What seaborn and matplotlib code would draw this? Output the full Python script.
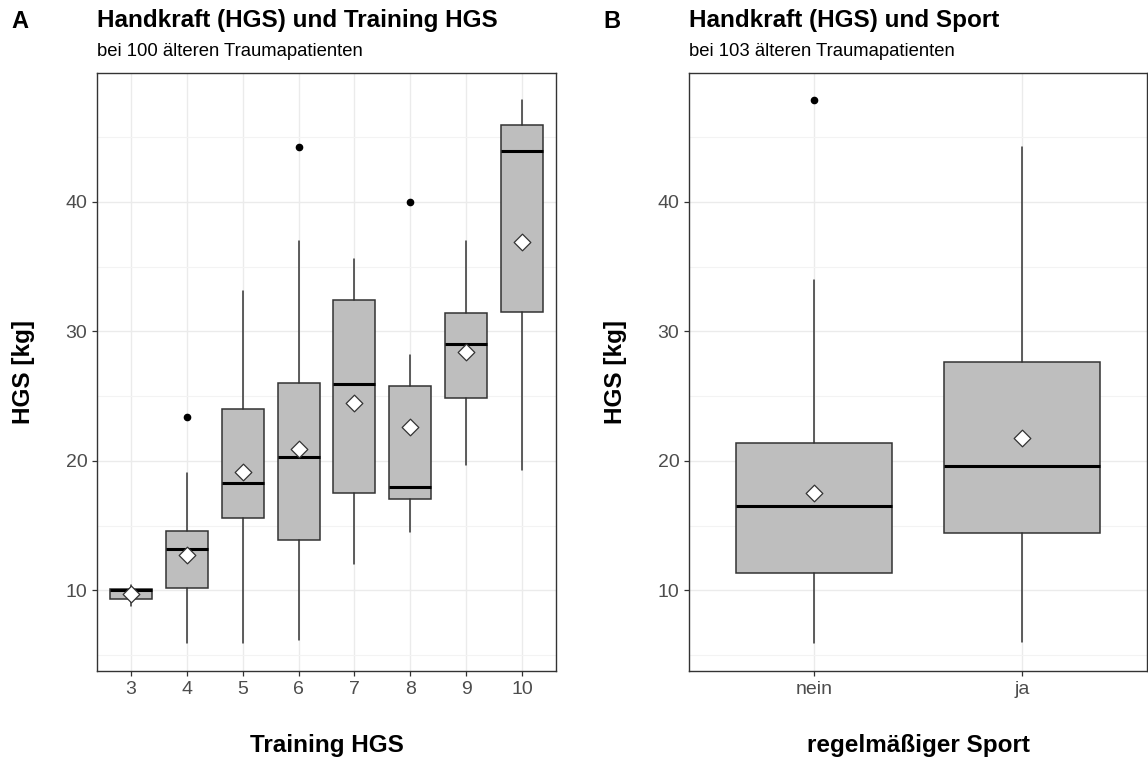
import matplotlib
matplotlib.use("Agg")
import matplotlib.pyplot as plt
import seaborn as sns
import pandas as pd
from matplotlib.ticker import MultipleLocator

# ---- data ----
training_levels = ["3", "4", "5", "6", "7", "8", "9", "10"]
a_whislo = [8.8, 5.9, 5.9, 6.2, 12.0, 14.5, 19.7, 19.3]
a_q1     = [9.3, 10.2, 15.6, 13.9, 17.5, 17.05, 24.85, 31.5]
a_med    = [10.0, 13.2, 18.3, 20.3, 25.9, 18.0, 29.0, 43.9]
a_q3     = [10.1, 14.6, 24.0, 26.0, 32.4, 25.75, 31.45, 45.9]
a_whishi = [10.4, 19.05, 33.1, 37.0, 35.6, 28.2, 37.0, 47.9]
a_mean   = [9.7, 12.75, 19.15, 20.9, 24.45, 22.6, 28.4, 36.9]
a_out    = [[], [23.4], [], [44.2], [], [40.0], [], []]

sport_levels = ["nein", "ja"]
b_whislo = [5.95, 6.0]
b_q1     = [11.3, 14.4]
b_med    = [16.55, 19.6]
b_q3     = [21.4, 27.6]
b_whishi = [34.0, 44.2]
b_mean   = [17.55, 21.8]
b_out    = [[47.85], []]

titles = ["Handkraft (HGS) und Training HGS", "Handkraft (HGS) und Sport"]
subtitles = ["bei 100 älteren Traumapatienten", "bei 103 älteren Traumapatienten"]
xlabels = ["Training HGS", "regelmäßiger Sport"]
tags = ["A", "B"]
ylabel = "HGS [kg]"

# ---- style ----
sns.set_theme(style="whitegrid")
plt.rcParams["font.family"] = ["Liberation Sans", "DejaVu Sans"]

W, H = 1148, 758
fig = plt.figure(figsize=(W / 100, H / 100), dpi=100)

def px_axes(left, right, top, bottom):
    return fig.add_axes([left / W, 1 - bottom / H, (right - left) / W, (bottom - top) / H])

axA = px_axes(97, 556, 73, 671)
axB = px_axes(689, 1147, 73, 671)

panels = [
    (axA, training_levels, a_whislo, a_q1, a_med, a_q3, a_whishi, a_mean, a_out),
    (axB, sport_levels, b_whislo, b_q1, b_med, b_q3, b_whishi, b_mean, b_out),
]

edge = "#333333"
for i, (ax, cats, lo, q1, med, q3, hi, mean, out) in enumerate(panels):
    stats = []
    for j, c in enumerate(cats):
        stats.append(dict(label=c, whislo=lo[j], q1=q1[j], med=med[j], q3=q3[j],
                          whishi=hi[j], fliers=out[j]))
    pos = list(range(len(cats)))
    ax.bxp(stats, positions=pos, widths=0.75, patch_artist=True, showcaps=False,
           boxprops=dict(facecolor="#BEBEBE", edgecolor=edge, linewidth=1.1),
           medianprops=dict(color="black", linewidth=2.2),
           whiskerprops=dict(color=edge, linewidth=1.1),
           flierprops=dict(marker="o", markerfacecolor="black", markeredgecolor="black",
                           markersize=4.5, linestyle="none"),
           zorder=2)
    df = pd.DataFrame({"pos": pos, "mean": mean})
    sns.scatterplot(data=df, x="pos", y="mean", marker="D", s=72, color="white",
                    edgecolor=edge, linewidth=0.9, ax=ax, zorder=4, legend=False)

    ax.set_xlim(-0.6, len(cats) - 0.4)
    ax.set_ylim(3.77, 49.95)
    ax.set_xticks(pos)
    ax.set_xticklabels(cats)
    ax.yaxis.set_major_locator(MultipleLocator(10))
    ax.yaxis.set_minor_locator(MultipleLocator(5))
    ax.set_yticks([10, 20, 30, 40])
    ax.set_facecolor("white")
    ax.grid(True, which="major", color="#EBEBEB", linewidth=1.0)
    ax.grid(True, which="minor", color="#F3F3F3", linewidth=0.8)
    ax.set_axisbelow(True)
    for sp in ax.spines.values():
        sp.set_visible(True)
        sp.set_color(edge)
        sp.set_linewidth(1.0)
    ax.tick_params(axis="both", which="major", length=3.5, width=0.9, color=edge,
                   labelsize=14, labelcolor="#4D4D4D", pad=3.5, bottom=True, left=True)
    ax.tick_params(axis="both", which="minor", length=0)
    ax.set_xlabel(xlabels[i], fontsize=17.5, fontweight="bold", labelpad=26, color="black")
    ax.set_ylabel(ylabel, fontsize=17.5, fontweight="bold", labelpad=22, color="black")

    # titles
    x0 = ax.get_position().x0
    fig.text(x0, 1 - 20 / H, titles[i], fontsize=17.5, fontweight="bold",
             ha="left", va="center", color="black")
    fig.text(x0, 1 - 52 / H, subtitles[i], fontsize=13.3, ha="left", va="center",
             color="black")
    fig.text(x0 - 86 / W, 1 - 21 / H, tags[i], fontsize=17, fontweight="bold",
             ha="left", va="center", color="black")

fig.savefig("out.png", dpi=100)
